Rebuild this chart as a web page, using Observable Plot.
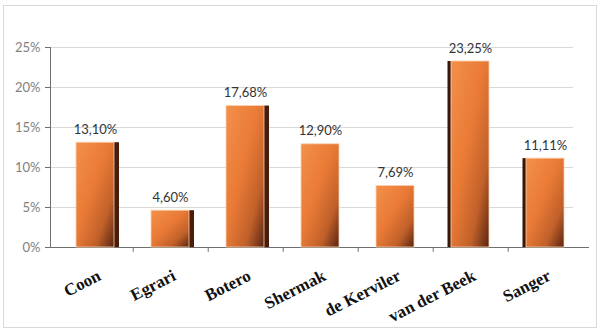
<!DOCTYPE html>
<html>
<head>
<meta charset="utf-8">
<script src="https://cdn.jsdelivr.net/npm/d3@7"></script>
<script src="https://cdn.jsdelivr.net/npm/@observablehq/plot@0.6"></script>
<style>
  html, body { margin: 0; padding: 0; background: #fff; }
  #chart svg { display: block; }
</style>
</head>
<body>
<div id="chart"></div>
<script>
const categories = ["Coon", "Egrari", "Botero", "Shermak", "de Kerviler", "van der Beek", "Sanger"];
const values = [13.10, 4.60, 17.68, 12.90, 7.69, 23.25, 11.11];
const yTicks = [0, 5, 10, 15, 20, 25];

const data = categories.map((name, i) => ({name, value: values[i], i}));
const fmt = v => v.toFixed(2).replace(".", ",") + "%";

const xRange = [56, 584];
const step = (xRange[1] - xRange[0]) / categories.length;
const bw = step * 0.5;

const chart = Plot.plot({
  width: 600,
  height: 332,
  marginLeft: 50,
  marginRight: 11,
  marginTop: 47,
  marginBottom: 85,
  style: {background: "transparent", overflow: "visible"},
  x: {domain: categories, range: xRange, paddingInner: 0.5, paddingOuter: 0.25, axis: null},
  y: {domain: [0, 25], axis: null},
  marks: [
    Plot.ruleY(yTicks, {y: d => d, stroke: "#d9d9d9", strokeWidth: 1, insetRight: 16}),
    Plot.frame({anchor: "left", stroke: "#6f6f6f"}),
    Plot.axisY({ticks: yTicks, tickFormat: d => d + "%", tickSize: 5, tickPadding: 5, label: null,
      stroke: "#6f6f6f", fill: "#7f7f7f", fontSize: 13, fontFamily: "Lato"}),
    Plot.ruleY([0], {stroke: "#6f6f6f"}),
    Plot.ruleX(categories.slice(0, 6), {x: d => d, y1: 0, y2: -0.6, dx: step / 2, stroke: "#6f6f6f"}),
    // dark side faces
    Plot.barY(data.filter(d => d.i < 3), {x: "name", y: "value", fill: "#4a1c0a", insetLeft: bw - 5, dx: 5}),
    Plot.barY(data.filter(d => d.i > 4), {x: "name", y: "value", fill: "#3a1608", insetRight: bw - 3.5, dx: -3.5}),
    Plot.barY(data, {x: "name", y: "value", fill: "url(#barGrad)", stroke: "#fbd2b0", strokeWidth: 0.8}),
    Plot.text(data, {x: "name", y: "value", text: d => fmt(d.value), dy: -13,
      fill: "#333", fontSize: 13, fontFamily: "Lato"}),
    Plot.text(categories, {x: d => d, y: 0, dy: 27, dx: 4, rotate: -27, textAnchor: "end",
      lineAnchor: "middle", fontWeight: "bold", fontSize: 17, fontFamily: "Liberation Serif", fill: "#111"})
  ]
});

const svg = d3.select(chart);
const defs = svg.insert("defs", ":first-child");
const g = defs.append("linearGradient").attr("id", "barGrad")
  .attr("x1", 0).attr("y1", 0).attr("x2", 1).attr("y2", 1);
[[0, "#f3904a"], [0.45, "#e97a36"], [0.75, "#c0602a"], [1, "#5a2412"]].forEach(([o, c]) =>
  g.append("stop").attr("offset", o).attr("stop-color", c));
svg.insert("rect", ":first-child")
  .attr("x", 3.5).attr("y", 5.5).attr("width", 593).attr("height", 322)
  .attr("fill", "none").attr("stroke", "#d9d9d9");

document.getElementById("chart").appendChild(chart);
</script>
</body>
</html>
